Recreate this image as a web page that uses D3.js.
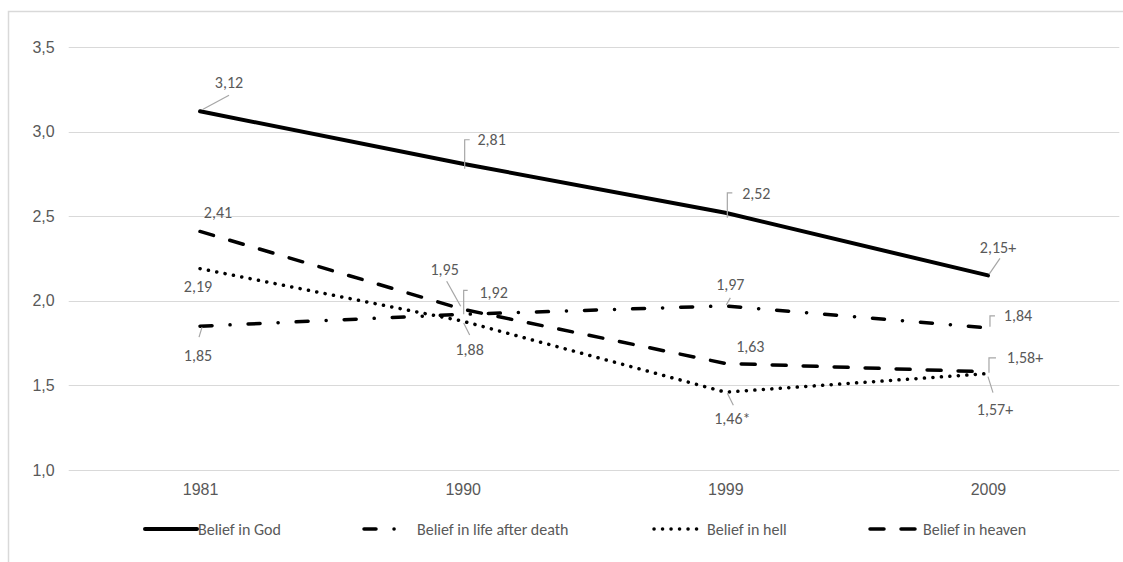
<!DOCTYPE html>
<html>
<head>
<meta charset="utf-8">
<script src="https://cdn.jsdelivr.net/npm/d3@7"></script>
<style>
  html, body { margin: 0; padding: 0; background: #ffffff; }
  svg { display: block; font-family: Carlito, Calibri, Lato, "Liberation Sans", sans-serif; }
</style>
</head>
<body>
<svg id="chart" width="1123" height="562"></svg>
<script>
// ---------- data ----------
const years = ["1981", "1990", "1999", "2009"];
const seriesNames = ["Belief in God", "Belief in life after death", "Belief in hell", "Belief in heaven"];
const godValues = [3.12, 2.81, 2.52, 2.15];
const afterDeathValues = [1.85, 1.92, 1.97, 1.84];
const hellValues = [2.19, 1.88, 1.46, 1.57];
const heavenValues = [2.41, 1.95, 1.63, 1.58];
const godLabels = ["3,12", "2,81", "2,52", "2,15+"];
const afterDeathLabels = ["1,85", "1,92", "1,97", "1,84"];
const hellLabels = ["2,19", "1,88", "1,46*", "1,57+"];
const heavenLabels = ["2,41", "1,95", "1,63", "1,58+"];
const yTicks = [1.0, 1.5, 2.0, 2.5, 3.0, 3.5];

// ---------- styles / layout ----------
const styles = [
  { width: 4,   dash: null,                cap: "round", legendLen: 52 },
  { width: 3.5, dash: "12,18,0.1,18",      cap: "round", legendLen: 32 },
  { width: 3.5, dash: "0.1,8.4",           cap: "round", legendLen: 50 },
  { width: 3.5, dash: "14,17",             cap: "round", legendLen: 48 }
];
// label text offset [dx, dy] from point and leader polyline (relative to point)
const labelLayout = [
  [ { t: [29, -29], l: [[3, -2], [29, -16]] },
    { t: [29, -24], l: [[2, 5], [2, -24], [7, -24]] },
    { t: [31, -19], l: [[2, 5], [2, -20], [7, -20]] },
    { t: [10, -28], l: [[1, -1], [12, -17]] } ],
  [ { t: [-2, 29], l: [[2, 1], [-1, 11]] },
    { t: [31, -22], l: [[1, 0], [1, -24], [5, -24]] },
    { t: [5, -21],  l: [[1, -1], [5, -8]] },
    { t: [30, -12], l: [[2, -1], [2, -12], [7, -12]] } ],
  [ { t: [-2, 18], l: null },
    { t: [7, 28],  l: [[1, 2], [7, 14]] },
    { t: [7, 26],  l: [[2, 1], [8, 13]] },
    { t: [7, 36],  l: [[0, 3], [5, 19]] } ],
  [ { t: [18, -19], l: null },
    { t: [-18, -40], l: [[-16, -28], [-2, -3]] },
    { t: [25, -17], l: null },
    { t: [37, -14], l: [[1, 1], [1, -14], [8, -14]] } ]
];
const legendX = [143, 362, 652, 868];
const legendTextX = [198, 417, 707, 923];

const series = [
  { name: seriesNames[0], values: godValues, labels: godLabels },
  { name: seriesNames[1], values: afterDeathValues, labels: afterDeathLabels },
  { name: seriesNames[2], values: hellValues, labels: hellLabels },
  { name: seriesNames[3], values: heavenValues, labels: heavenLabels }
];

const svg = d3.select("#chart");
const textColor = "#595959";
const gridColor = "#d9d9d9";
const fontSize = "16px";

// outer chart border (left & top visible)
svg.append("rect")
  .attr("x", 8.5).attr("y", 11.5)
  .attr("width", 1140).attr("height", 580)
  .attr("fill", "none").attr("stroke", gridColor).attr("stroke-width", 1.5);

const x = d3.scalePoint().domain(years).range([68.7, 1119.3]).padding(0.5);
const y = d3.scaleLinear().domain([1, 3.5]).range([470, 47]);
const fmt = v => d3.format(".1f")(v).replace(".", ",");

// gridlines
svg.append("g").selectAll("line").data(yTicks).join("line")
  .attr("x1", 68.7).attr("x2", 1119.3)
  .attr("y1", d => Math.round(y(d)) + 0.5).attr("y2", d => Math.round(y(d)) + 0.5)
  .attr("stroke", gridColor).attr("stroke-width", 1.2);

// y axis
const yAxis = d3.axisLeft(y).tickValues(yTicks).tickFormat(fmt).tickSize(0).tickPadding(14);
const gy = svg.append("g").attr("transform", "translate(68.7,0)").call(yAxis);
gy.select(".domain").remove();
gy.selectAll("text").attr("fill", textColor).style("font-size", fontSize)
  .attr("font-family", null);

// x axis
const xAxis = d3.axisBottom(x).tickSize(0).tickPadding(14);
const gx = svg.append("g").attr("transform", "translate(0,470)").call(xAxis);
gx.select(".domain").remove();
gx.selectAll("text").attr("fill", textColor).style("font-size", fontSize)
  .attr("font-family", null);

// lines
const line = d3.line().x((d, i) => x(years[i])).y(d => y(d));
series.forEach((s, si) => {
  const st = styles[si];
  svg.append("path")
    .datum(s.values)
    .attr("d", line)
    .attr("fill", "none")
    .attr("stroke", "#000")
    .attr("stroke-width", st.width)
    .attr("stroke-linecap", st.cap)
    .attr("stroke-linejoin", "round")
    .attr("stroke-dasharray", st.dash);
});

// labels and leaders
const lblG = svg.append("g");
series.forEach((s, si) => {
  s.values.forEach((v, i) => {
    const px = x(years[i]), py = y(v);
    const lay = labelLayout[si][i];
    if (lay.l) {
      lblG.append("polyline")
        .attr("points", lay.l.map(p => [px + p[0], py + p[1]].join(",")).join(" "))
        .attr("fill", "none").attr("stroke", "#a6a6a6").attr("stroke-width", 1.2);
    }
    lblG.append("text")
      .attr("x", px + lay.t[0]).attr("y", py + lay.t[1])
      .attr("text-anchor", "middle").attr("dominant-baseline", "central")
      .attr("fill", textColor).style("font-size", fontSize)
      .text(s.labels[i]);
  });
});

// legend
const legY = 529;
series.forEach((s, si) => {
  const st = styles[si];
  const lx = legendX[si];
  svg.append("line")
    .attr("x1", lx + 2).attr("x2", lx + 2 + st.legendLen)
    .attr("y1", legY).attr("y2", legY)
    .attr("stroke", "#000").attr("stroke-width", st.width)
    .attr("stroke-linecap", st.cap)
    .attr("stroke-dasharray", st.dash);
  svg.append("text")
    .attr("x", legendTextX[si]).attr("y", legY)
    .attr("dominant-baseline", "central")
    .attr("fill", textColor).style("font-size", fontSize)
    .text(s.name);
});
</script>
</body>
</html>
